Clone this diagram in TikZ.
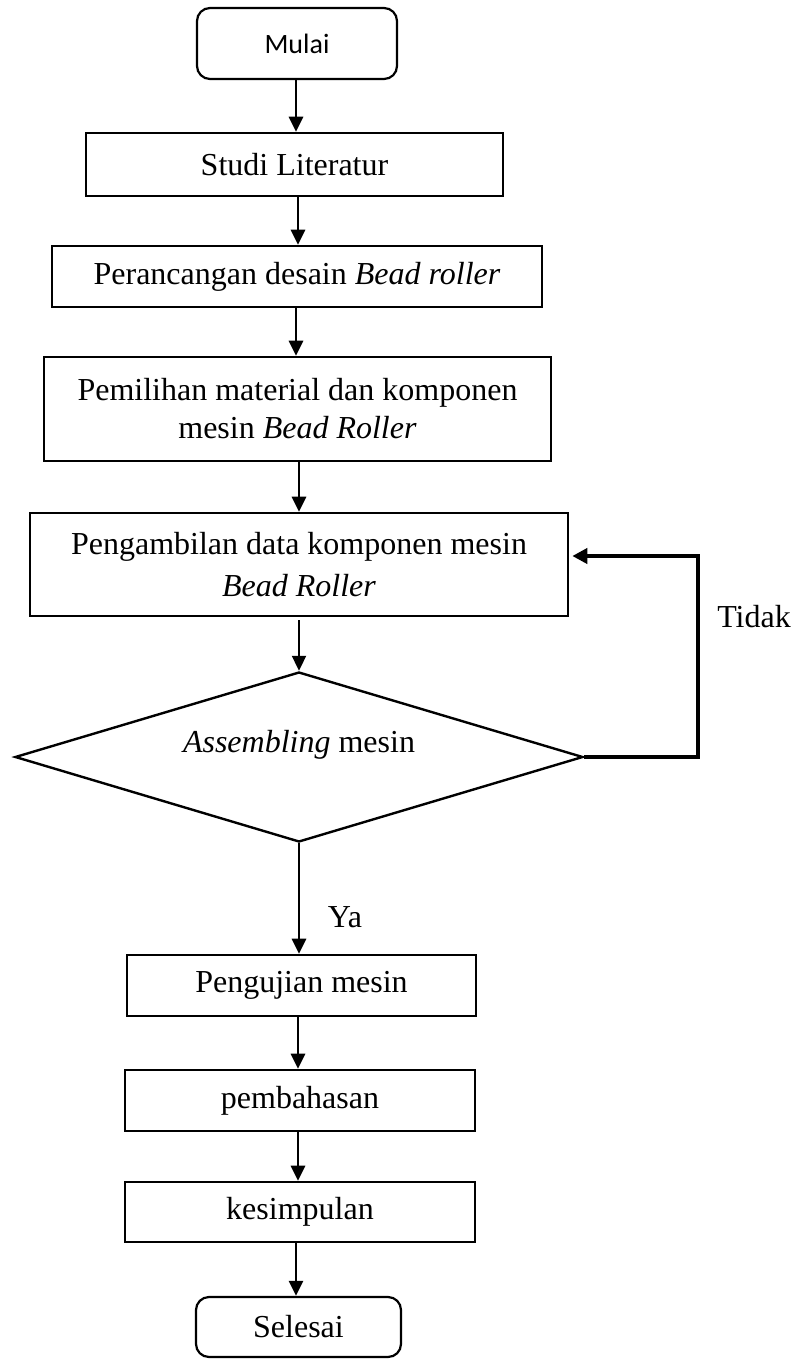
\documentclass[tikz,border=0pt]{standalone}
\usepackage{fontspec}
\setmainfont{Liberation Serif}
\newfontfamily\calibrifont{Carlito}
\usetikzlibrary{arrows.meta,shapes.geometric}
\tikzset{
  txt/.style={font=\fontsize{32}{38}\selectfont, inner sep=0pt, align=center},
  box/.style={txt, draw, line width=2.6pt},
  term/.style={draw, line width=2.2pt, rounded corners=13pt, inner sep=0pt, align=center},
  dia/.style={diamond, draw, line width=2.4pt, inner sep=0pt},
  arr/.style={line width=2.8pt, -{Triangle[length=15pt,width=14pt]}},
}
\begin{document}
\begin{tikzpicture}[x=1pt,y=-1pt]
\useasboundingbox (0,0) rectangle (798,1359);
% nodes
\node[term, minimum width=200, minimum height=71, font=\calibrifont\fontsize{28}{34}\selectfont] (start) at (297,43.5) {Mulai};
\node[box, minimum width=417, minimum height=63] (s1) at (294.5,164.5) {Studi Literatur};
\node[box, minimum width=490, minimum height=61] (s2) at (297,276.5) {Perancangan desain \textit{Bead roller}};
\node[box, minimum width=507, minimum height=104] (s3) at (297.5,409) {Pemilihan material dan komponen\\mesin \textit{Bead Roller}};
\node[box, minimum width=538, minimum height=103] (s4) at (299,564.5) {Pengambilan data komponen mesin\\[4pt]\textit{Bead Roller}};
\node[dia, minimum width=568, minimum height=170] (d) at (299,757) {};
\node[txt] (dt) at (299,745) {\textit{Assembling} mesin};
\node[box, minimum width=349, minimum height=61] (s5) at (301.5,985.5) {Pengujian mesin};
\node[box, minimum width=350, minimum height=61] (s6) at (300,1100.5) {pembahasan};
\node[box, minimum width=350, minimum height=60] (s7) at (300,1212) {kesimpulan};
\node[term, minimum width=205, minimum height=60, font=\fontsize{32}{38}\selectfont] (stop) at (298.5,1327) {Selesai};
\node[txt] (ya) at (345,917) {Ya};
\node[txt] (tidak) at (754,617) {Tidak};
% connectors
\coordinate (a1) at (296,0);
\coordinate (a2) at (298,0);
\coordinate (a3) at (299,0);
\coordinate (lp) at (698,556);
\draw[arr] (start.south -| a1) -- (s1.north -| a1);
\draw[arr] (s1.south -| a2) -- (s2.north -| a2);
\draw[arr] (s2.south -| a1) -- (s3.north -| a1);
\draw[arr] (s3.south -| a3) -- (s4.north -| a3);
\draw[arr, line width=2pt, shorten <=3pt] (s4.south -| a3) -- (d.north);
\draw[arr] (d.south) -- (s5.north -| a3);
\draw[arr] (s5.south -| a2) -- (s6.north -| a2);
\draw[arr] (s6.south -| a2) -- (s7.north -| a2);
\draw[arr] (s7.south -| a1) -- (stop.north -| a1);
\draw[line width=4pt, shorten >=3pt, -{Triangle[length=15pt,width=15pt]}] (d.east) -| (lp) -- (s4.east |- lp);
\end{tikzpicture}
\end{document}
